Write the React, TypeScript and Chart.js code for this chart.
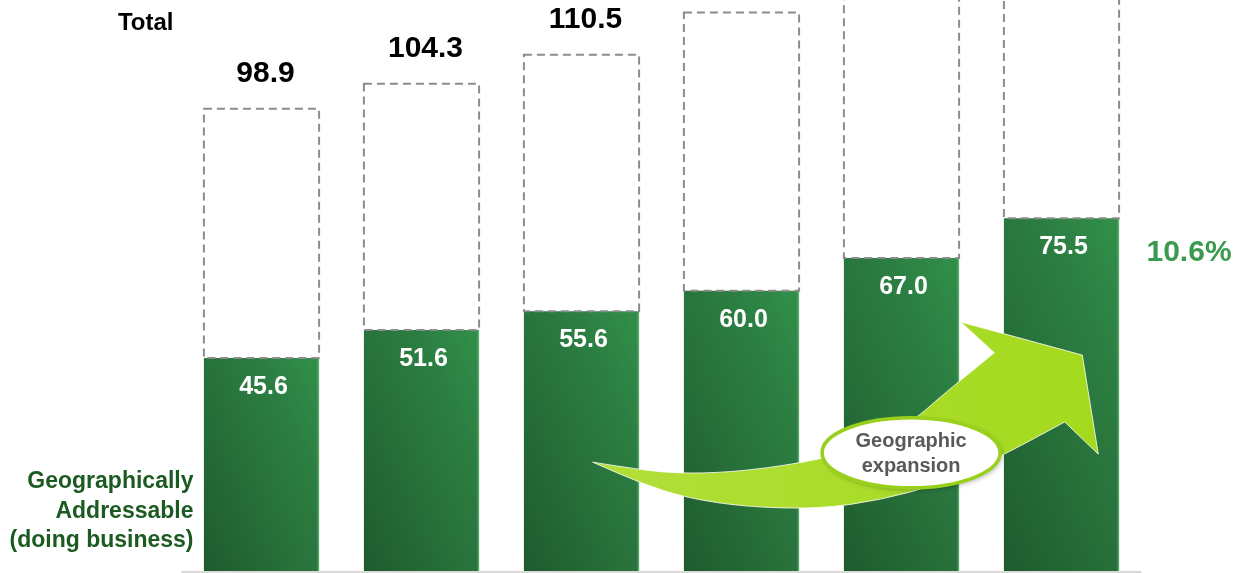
import React, { useEffect, useRef } from "react";
import { Chart, registerables } from "chart.js";
Chart.register(...registerables);

const categories = ["Y1", "Y2", "Y3", "Y4", "Y5", "Y6"];
const addressable = [45.6, 51.6, 55.6, 60.0, 67.0, 75.5];
const totals = [98.9, 104.3, 110.5, 119.5, 129.5, 140.0];
const addressableLabels = ["45.6", "51.6", "55.6", "60.0", "67.0", "75.5"];
const totalLabels = ["98.9", "104.3", "110.5", "119.5", "129.5", "140.0"];
const cagrLabel = "10.6%";
const totalTitle = "Total";
const addressableTitle = ["Geographically", "Addressable", "(doing business)"];
const arrowText = ["Geographic", "expansion"];
const yMax = 122.2;

// decorative arrow outline in data space: [category position, value]
const arrowUpper = [[2.07, 23.3], [2.37, 21.6], [2.66, 20.8], [3.03, 21.4], [3.49, 23.8], [3.81, 27.0], [4.06, 31.7], [4.24, 37.2], [4.58, 46.7]];
const arrowHead = [[4.37, 53.3], [5.13, 46.2], [5.23, 25.0], [5.02, 31.9]];
const arrowLower = [[5.02, 31.9], [4.62, 24.4], [4.24, 18.6], [3.87, 15.2], [3.49, 13.3], [3.03, 13.7], [2.66, 15.6], [2.37, 18.8], [2.07, 23.3]];
const bubbleCenter = [4.06, 25.3];
const bubbleRadius = [0.556, 7.5];

const FONT = '"Liberation Sans", Arial, sans-serif';
const BAR_PCT = 0.72;

const overlay = {
  id: "overlay",
  afterDatasetsDraw(chart: any) {
    const ctx: CanvasRenderingContext2D = chart.ctx;
    const xs = chart.scales.x;
    const ys = chart.scales.y;
    const area = chart.chartArea;
    const P = (p: number[]) => [xs.getPixelForValue(p[0]), ys.getPixelForValue(p[1])];

    ctx.save();
    const metaA = chart.getDatasetMeta(0);
    const metaT = chart.getDatasetMeta(1);

    // light right edge on green bars
    metaA.data.forEach((el: any) => {
      const { x, y, base, width } = el.getProps(["x", "y", "base", "width"], true);
      ctx.fillStyle = "rgba(140,200,150,0.5)";
      ctx.fillRect(x + width / 2 - 1.5, y, 1.5, base - y);
    });

    // baseline
    const y0 = ys.getPixelForValue(0);
    ctx.strokeStyle = "#d9d9d9";
    ctx.lineWidth = 2;
    ctx.beginPath();
    ctx.moveTo(area.left, y0 + 1);
    ctx.lineTo(area.right, y0 + 1);
    ctx.stroke();

    // dashed total boxes
    ctx.setLineDash([8, 5]);
    ctx.strokeStyle = "#8c8c8c";
    ctx.lineWidth = 2;
    metaT.data.forEach((el: any) => {
      const { x, y, base, width } = el.getProps(["x", "y", "base", "width"], true);
      const top = Math.min(y, base);
      const bot = Math.max(y, base);
      ctx.strokeRect(x - width / 2, top, width, bot - top);
    });
    ctx.setLineDash([]);

    // labels
    ctx.textAlign = "center";
    ctx.textBaseline = "middle";
    metaA.data.forEach((el: any, i: number) => {
      const { x, y } = el.getProps(["x", "y"], true);
      ctx.fillStyle = "#ffffff";
      ctx.font = `bold 25px ${FONT}`;
      ctx.fillText(addressableLabels[i], x + 2, y + 29);
    });
    metaT.data.forEach((el: any, i: number) => {
      const { x, y, base } = el.getProps(["x", "y", "base"], true);
      const top = Math.min(y, base);
      ctx.fillStyle = "#000000";
      ctx.font = `bold 30px ${FONT}`;
      ctx.fillText(totalLabels[i], x + 4, top - 35);
    });

    // side texts
    ctx.textAlign = "right";
    ctx.fillStyle = "#000000";
    ctx.font = `bold 24px ${FONT}`;
    ctx.fillText(totalTitle, area.left - 8, 23);
    ctx.fillStyle = "#1b5a20";
    ctx.font = `bold 23px ${FONT}`;
    ctx.textBaseline = "alphabetic";
    addressableTitle.forEach((t, i) => {
      ctx.fillText(t, area.left + 12, 488 + i * 29.5);
    });
    ctx.textAlign = "left";
    ctx.textBaseline = "middle";
    ctx.fillStyle = "#3a9a4e";
    ctx.font = `bold 30px ${FONT}`;
    ctx.fillText(cagrLabel, area.right + 5, ys.getPixelForValue(addressable[5]) + 35);

    // arrow
    const smooth = (pts: number[][]) => {
      for (let i = 1; i < pts.length - 1; i++) {
        const mx = (pts[i][0] + pts[i + 1][0]) / 2;
        const my = (pts[i][1] + pts[i + 1][1]) / 2;
        ctx.quadraticCurveTo(pts[i][0], pts[i][1], mx, my);
      }
      const last = pts[pts.length - 1];
      ctx.lineTo(last[0], last[1]);
    };
    const up = arrowUpper.map(P);
    const head = arrowHead.map(P);
    const low = arrowLower.map(P);
    ctx.beginPath();
    ctx.moveTo(up[0][0], up[0][1]);
    smooth(up);
    head.forEach((p) => ctx.lineTo(p[0], p[1]));
    smooth(low);
    ctx.closePath();
    const g = ctx.createLinearGradient(up[0][0], 0, head[1][0], 0);
    g.addColorStop(0, "#b2df3a");
    g.addColorStop(1, "#a4da1e");
    ctx.fillStyle = g;
    ctx.fill();
    ctx.strokeStyle = "rgba(255,255,255,0.8)";
    ctx.lineWidth = 1;
    ctx.stroke();

    // bubble
    const [bx, by] = P(bubbleCenter);
    const rx = Math.abs(xs.getPixelForValue(bubbleCenter[0] + bubbleRadius[0]) - bx);
    const ry = Math.abs(ys.getPixelForValue(bubbleCenter[1] + bubbleRadius[1]) - by);
    ctx.save();
    ctx.shadowColor = "rgba(0,0,0,0.3)";
    ctx.shadowBlur = 5;
    ctx.shadowOffsetX = 2;
    ctx.shadowOffsetY = 2;
    ctx.beginPath();
    ctx.ellipse(bx, by, rx, ry, 0, 0, Math.PI * 2);
    ctx.fillStyle = "#ffffff";
    ctx.fill();
    ctx.restore();
    ctx.beginPath();
    ctx.ellipse(bx, by, rx, ry, 0, 0, Math.PI * 2);
    ctx.strokeStyle = "#98d01c";
    ctx.lineWidth = 3.5;
    ctx.stroke();
    ctx.fillStyle = "#595959";
    ctx.font = `bold 20px ${FONT}`;
    ctx.textAlign = "center";
    ctx.fillText(arrowText[0], bx, by - 11);
    ctx.fillText(arrowText[1], bx, by + 14);

    ctx.restore();
  },
};

export default function App() {
  const ref = useRef<HTMLCanvasElement | null>(null);
  useEffect(() => {
    if (!ref.current) return;
    const chart = new Chart(ref.current, {
      type: "bar",
      data: {
        labels: categories,
        datasets: [
          {
            label: "Addressable",
            data: addressable,
            borderWidth: 0,
            backgroundColor: (c: any) => {
              const ch = c.chart;
              const xs = ch.scales?.x;
              const ys = ch.scales?.y;
              if (c.type !== "data" || !xs || !ys || !ch.chartArea) return "#2a7b3f";
              const cx = xs.getPixelForValue(c.dataIndex);
              const step = xs.getPixelForValue(1) - xs.getPixelForValue(0);
              const half = (step * BAR_PCT) / 2;
              const top = ys.getPixelForValue(addressable[c.dataIndex]);
              const bot = ys.getPixelForValue(0);
              if (!isFinite(cx) || !isFinite(top) || !isFinite(half)) return "#2a7b3f";
              const left = cx - half;
              const right = cx + half;
              const dx = 1;
              const dy = -0.45;
              const sBL = left * dx + bot * dy;
              const sTR = right * dx + top * dy;
              const t = (sTR - sBL) / (dx * dx + dy * dy);
              const g = ch.ctx.createLinearGradient(left, bot, left + dx * t, bot + dy * t);
              g.addColorStop(0, "#1e5b2e");
              g.addColorStop(0.4, "#276f39");
              g.addColorStop(0.75, "#2c8043");
              g.addColorStop(1, "#32904a");
              return g;
            },
          },
          {
            label: "Total",
            data: addressable.map((a, i) => [a, totals[i]]) as any,
            borderWidth: 0,
            backgroundColor: "rgba(0,0,0,0)",
          },
        ],
      },
      options: {
        animation: false,
        responsive: false,
        events: [],
        layout: { padding: { left: 181.5, right: 97.5, top: 0, bottom: 2 } },
        datasets: { bar: { categoryPercentage: 1, barPercentage: BAR_PCT } },
        plugins: { legend: { display: false }, tooltip: { enabled: false }, title: { display: false } },
        scales: {
          x: { display: false, stacked: true, grid: { display: false } },
          y: { display: false, min: 0, max: yMax, stacked: false, grid: { display: false } },
        },
      },
      plugins: [overlay],
    });
    return () => chart.destroy();
  }, []);
  return (
    <div style={{ position: "absolute", left: 0, top: 0, width: 1239, height: 573, background: "#ffffff" }}>
      <canvas ref={ref} width={1239} height={573} style={{ display: "block", width: 1239, height: 573 }} />
    </div>
  );
}
